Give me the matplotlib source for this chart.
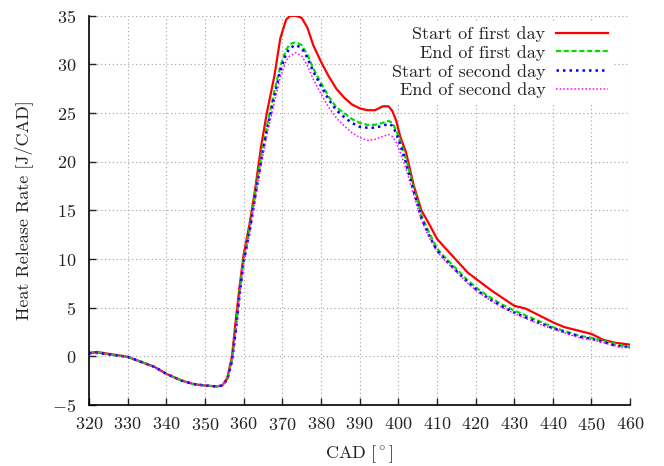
import matplotlib
matplotlib.use("Agg")
import matplotlib.pyplot as plt

plt.rcParams["font.family"] = "serif"
plt.rcParams["font.serif"] = ["cmr10", "DejaVu Serif"]
plt.rcParams["mathtext.fontset"] = "cm"
plt.rcParams["axes.formatter.use_mathtext"] = True
plt.rcParams["font.size"] = 13

# crank angle [deg]
CAD = [320, 322, 326, 330, 333, 337, 340, 344, 347, 350, 353, 354.5, 355.8, 357,
       358, 359, 360, 361.5, 363, 364.5, 366, 368, 369.5, 371, 372, 373.5, 375,
       376.5, 378, 380, 382, 384, 386, 388, 390, 392, 394, 396, 397.5, 398.5,
       399.5, 400.5, 402, 404, 406, 408, 410, 412, 415, 418, 421, 424, 427, 430,
       433, 436, 440, 443, 447, 450, 453, 456, 458, 460]

start_day1 = [0.35, 0.45, 0.2, -0.05, -0.5, -1.1, -1.8, -2.5, -2.85, -3.0, -3.1, -3.0,
              -2.2, 0.0, 3.8, 7.3, 10.4, 13.5, 17.2, 21.5, 25.0, 28.9, 32.7, 34.6,
              35.0, 35.0, 34.8, 33.8, 32.0, 30.3, 28.8, 27.5, 26.6, 25.9, 25.5, 25.3,
              25.3, 25.7, 25.7, 25.2, 24.2, 22.6, 21.0, 17.6, 15.0, 13.6, 12.1, 11.2,
              9.9, 8.6, 7.7, 6.8, 6.0, 5.2, 4.9, 4.3, 3.5, 3.0, 2.6, 2.3, 1.7, 1.4,
              1.3, 1.2]

end_day1 = [0.35, 0.4, 0.15, -0.05, -0.5, -1.1, -1.8, -2.5, -2.85, -3.0, -3.1, -3.0,
            -2.3, -0.3, 3.0, 6.8, 10.0, 13.0, 16.8, 20.5, 23.6, 27.3, 29.8, 31.5,
            32.1, 32.3, 32.0, 31.0, 29.6, 28.1, 26.7, 25.6, 25.0, 24.4, 24.0, 23.8,
            23.8, 24.0, 24.2, 24.0, 23.2, 22.2, 20.3, 17.4, 14.5, 12.7, 11.1, 10.2,
            9.0, 7.8, 6.8, 6.0, 5.3, 4.7, 4.2, 3.7, 3.0, 2.6, 2.1, 1.9, 1.6, 1.3,
            1.1, 0.9]

start_day2 = [0.3, 0.35, 0.15, -0.05, -0.5, -1.1, -1.8, -2.5, -2.85, -3.0, -3.1, -3.0,
              -2.4, -0.5, 2.7, 6.4, 9.7, 12.7, 16.4, 20.0, 23.2, 26.8, 29.4, 31.1,
              31.7, 32.0, 31.7, 30.7, 29.3, 27.8, 26.4, 25.3, 24.6, 24.0, 23.6, 23.5,
              23.5, 23.7, 23.9, 23.7, 22.9, 21.8, 19.9, 17.0, 14.2, 12.4, 10.9, 10.0,
              8.8, 7.6, 6.6, 5.8, 5.1, 4.5, 4.0, 3.5, 2.9, 2.5, 2.0, 1.8, 1.5, 1.1,
              1.0, 1.0]

end_day2 = [0.3, 0.35, 0.15, -0.05, -0.5, -1.1, -1.8, -2.5, -2.85, -3.0, -3.1, -3.0,
            -2.4, -0.6, 2.5, 6.2, 9.5, 12.5, 16.1, 19.6, 22.7, 26.2, 28.7, 30.4,
            30.9, 31.2, 30.9, 29.9, 28.5, 27.0, 25.6, 24.5, 23.7, 23.0, 22.5, 22.2,
            22.3, 22.6, 22.8, 22.6, 22.0, 21.0, 19.3, 16.6, 14.0, 12.2, 10.8, 9.9,
            8.7, 7.5, 6.5, 5.7, 5.0, 4.4, 3.9, 3.4, 2.8, 2.4, 1.9, 1.7, 1.4, 1.1,
            0.9, 0.9]

fig = plt.figure(figsize=(6.64, 4.66), dpi=100)
ax = fig.add_axes([0.134, 0.131, 0.815, 0.835])

ax.plot(CAD, start_day1, color="#ff0000", lw=1.6, label="Start of first day")
ax.plot(CAD, end_day1, color="#00dd00", lw=1.6, dashes=(2.3, 1.2), label="End of first day")
ax.plot(CAD, start_day2, color="#0000ff", lw=1.8, dashes=(1, 1.6), label="Start of second day")
ax.plot(CAD, end_day2, color="#ff00ff", lw=1.1, dashes=(1, 1.4), label="End of second day")

ax.set_xlim(320, 460)
ax.set_ylim(-5, 35)
ax.set_xticks(range(320, 461, 10))
ax.set_yticks(range(-5, 36, 5))
ax.grid(True, color="#a0a0a0", linestyle=(0, (1, 2.5)), lw=0.8)
ax.set_axisbelow(True)

for side in ("top", "right"):
    ax.spines[side].set_visible(False)
for side in ("left", "bottom"):
    ax.spines[side].set_linewidth(1.2)
ax.tick_params(direction="in", length=5, width=1.0, top=False, right=False,
               colors="#222222", labelsize=13)
ax.tick_params(axis="y", pad=9)
ax.tick_params(axis="x", pad=8)

ax.set_xlabel(r"$\mathrm{CAD\ [^\circ]}$", fontsize=13, color="#222222", labelpad=7)
ax.set_ylabel("Heat Release Rate [J/CAD]", fontsize=13, color="#222222", labelpad=14)

leg = ax.legend(loc="upper right", bbox_to_anchor=(0.985, 1.008), markerfirst=False,
                frameon=True, fancybox=False, handlelength=2.9, handletextpad=0.6,
                labelspacing=0.16, borderpad=0.25, fontsize=13)
leg.get_frame().set_edgecolor("none")
leg.get_frame().set_facecolor("white")
leg.get_frame().set_alpha(1.0)
for t in leg.get_texts():
    t.set_color("#222222")

fig.savefig("out.png", dpi=100)
